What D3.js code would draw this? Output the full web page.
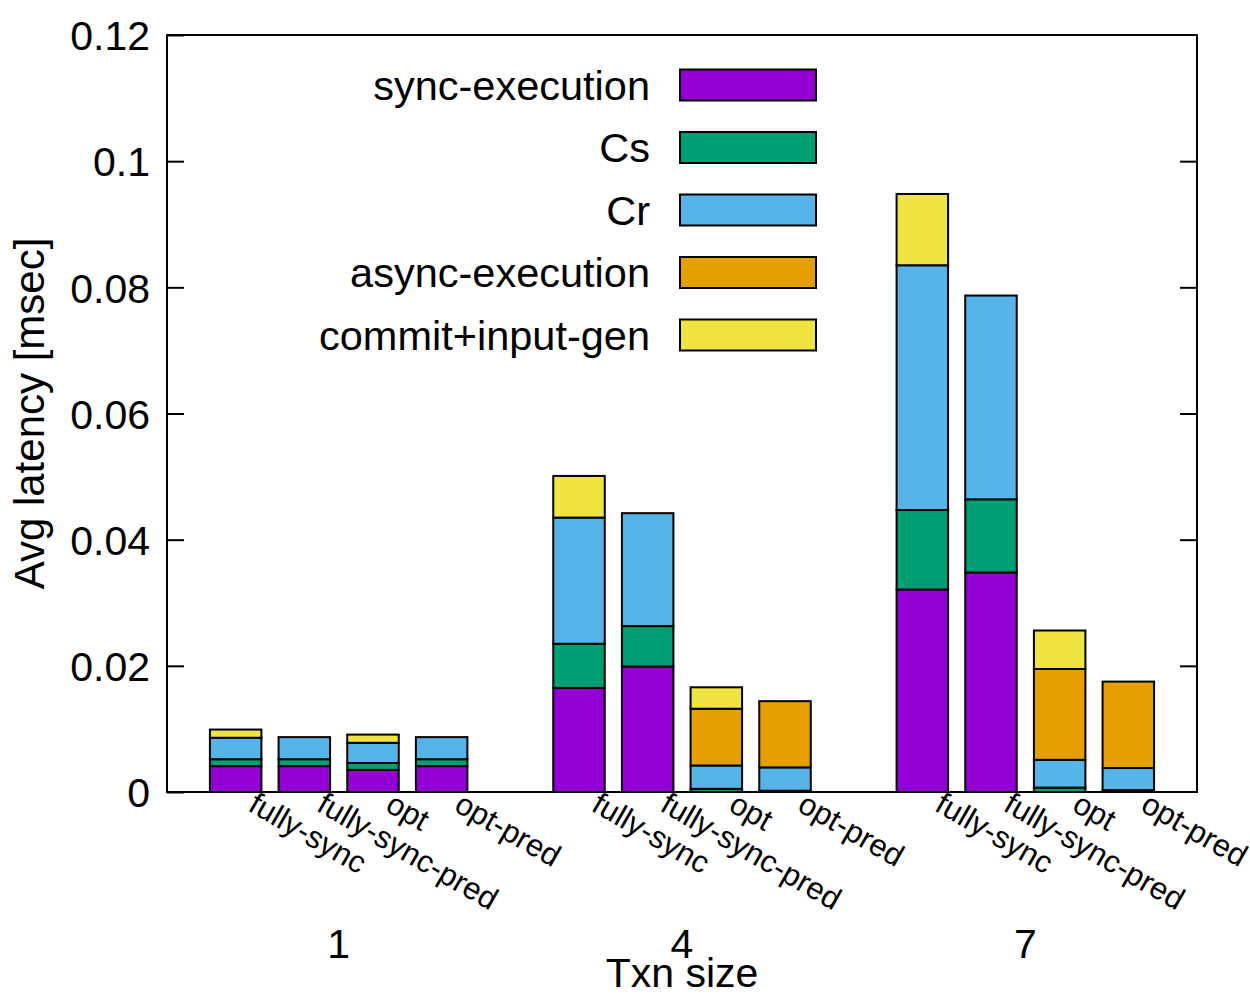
<!DOCTYPE html>
<html>
<head>
<meta charset="utf-8">
<script src="https://cdn.jsdelivr.net/npm/d3@7"></script>
<style>
  html, body { margin: 0; padding: 0; background: #fff; }
  svg { display: block; font-family: "Liberation Sans", Arial, Helvetica, sans-serif; }
</style>
</head>
<body>
<svg id="chart" width="1250" height="1000"></svg>
<script>
// ---- data ----
const groups = ["1", "4", "7"];
const variants = ["fully-sync", "fully-sync-pred", "opt", "opt-pred"];
const seriesNames = ["sync-execution", "Cs", "Cr", "async-execution", "commit+input-gen"];
const seriesColors = ["#9400d3", "#009e73", "#56b4e9", "#e69f00", "#f0e442"];
// values per bar, ordered group 1 (4 variants), group 4, group 7
const syncExecution = [0.0041, 0.0041, 0.0035, 0.0041, 0.0165, 0.0199, 0, 0, 0.0321, 0.0348, 0, 0];
const cs            = [0.0011, 0.0011, 0.0011, 0.0011, 0.0070, 0.0064, 0.0005, 0.0002, 0.0126, 0.0116, 0.0007, 0.0003];
const cr            = [0.0034, 0.0035, 0.0032, 0.0035, 0.0200, 0.0179, 0.0037, 0.0037, 0.0388, 0.0323, 0.0044, 0.0035];
const asyncExecution= [0, 0, 0, 0, 0, 0, 0.0090, 0.0105, 0, 0, 0.0144, 0.0137];
const commitInput   = [0.0013, 0, 0.0013, 0, 0.0066, 0, 0.0034, 0, 0.0113, 0, 0.0061, 0];
const yTicks = [0, 0.02, 0.04, 0.06, 0.08, 0.1, 0.12];
const yTickLabels = ["0", "0.02", "0.04", "0.06", "0.08", "0.1", "0.12"];

// ---- layout ----
const svg = d3.select("#chart");
const L = 167, R = 1197, T = 35, B = 792;
const slotsPerGroup = variants.length + 1;
const x = d3.scaleLinear().domain([0, groups.length * slotsPerGroup]).range([L, R]);
const y = d3.scaleLinear().domain([0, 0.12]).range([B, T]);
const barW = 0.75;
const FONT = 41;

const seriesArrays = [syncExecution, cs, cr, asyncExecution, commitInput];
const rows = [];
groups.forEach((g, gi) => {
  variants.forEach((v, vi) => {
    const idx = gi * variants.length + vi;
    const row = { group: g, variant: v, pos: gi * slotsPerGroup + vi + 1 };
    seriesNames.forEach((s, si) => row[s] = seriesArrays[si][idx]);
    rows.push(row);
  });
});
const stacked = d3.stack().keys(seriesNames)(rows);
const color = d3.scaleOrdinal().domain(seriesNames).range(seriesColors);

// bars
const layers = svg.append("g").selectAll("g").data(stacked).join("g")
  .attr("fill", d => color(d.key));
layers.selectAll("rect").data(d => d.filter(p => p[1] - p[0] > 0)).join("rect")
  .attr("x", d => x(d.data.pos - barW / 2))
  .attr("width", d => x(barW) - x(0))
  .attr("y", d => y(d[1]))
  .attr("height", d => y(d[0]) - y(d[1]))
  .attr("stroke", "#000")
  .attr("stroke-width", 2);

// frame
svg.append("rect").attr("x", L).attr("y", T).attr("width", R - L).attr("height", B - T)
  .attr("fill", "none").attr("stroke", "#000").attr("stroke-width", 2);

// y ticks (inside, mirrored)
const yAxisL = d3.axisLeft(y).tickValues(yTicks).tickSize(-17).tickPadding(0).tickFormat((d, i) => yTickLabels[i]);
const gy = svg.append("g").attr("transform", `translate(${L},0)`).call(yAxisL);
gy.select(".domain").remove();
gy.selectAll(".tick line").attr("stroke", "#000").attr("stroke-width", 2);
gy.selectAll(".tick text").attr("x", -17).attr("dy", "0.36em")
  .attr("font-size", FONT).attr("fill", "#000").attr("font-family", "Liberation Sans, Arial, sans-serif");
const yAxisR = d3.axisRight(y).tickValues(yTicks.filter(v => v > 0 && v < 0.12)).tickSize(-17).tickFormat("");
const gyr = svg.append("g").attr("transform", `translate(${R},0)`).call(yAxisR);
gyr.select(".domain").remove();
gyr.selectAll(".tick line").attr("stroke", "#000").attr("stroke-width", 2);

// rotated variant labels
svg.append("g").selectAll("text").data(rows).join("text")
  .attr("transform", d => `translate(${x(d.pos) + 11},${B + 18}) rotate(30)`)
  .attr("font-size", 31)
  .attr("fill", "#000")
  .text(d => d.variant);

// group labels
svg.append("g").selectAll("text").data(groups).join("text")
  .attr("x", (d, i) => x(i * slotsPerGroup + (variants.length + 1) / 2))
  .attr("y", 958)
  .attr("text-anchor", "middle")
  .attr("font-size", FONT)
  .text(d => d);

// axis titles
svg.append("text").attr("x", x(groups.length * slotsPerGroup / 2)).attr("y", 987)
  .attr("text-anchor", "middle").attr("font-size", FONT).text("Txn size");
svg.append("text").attr("transform", `translate(44,${(T + B) / 2}) rotate(-90)`)
  .attr("text-anchor", "middle").attr("font-size", 42).text("Avg latency [msec]");

// legend
const legend = svg.append("g").selectAll("g").data(seriesNames).join("g")
  .attr("transform", (d, i) => `translate(0,${85 + i * 62.5})`);
legend.append("text").attr("x", 650).attr("y", 0).attr("dy", "0.36em")
  .attr("text-anchor", "end").attr("font-size", 41.5).text(d => d);
legend.append("rect").attr("x", 680).attr("y", -15.5).attr("width", 136).attr("height", 31)
  .attr("fill", d => color(d)).attr("stroke", "#000").attr("stroke-width", 2);
</script>
</body>
</html>
